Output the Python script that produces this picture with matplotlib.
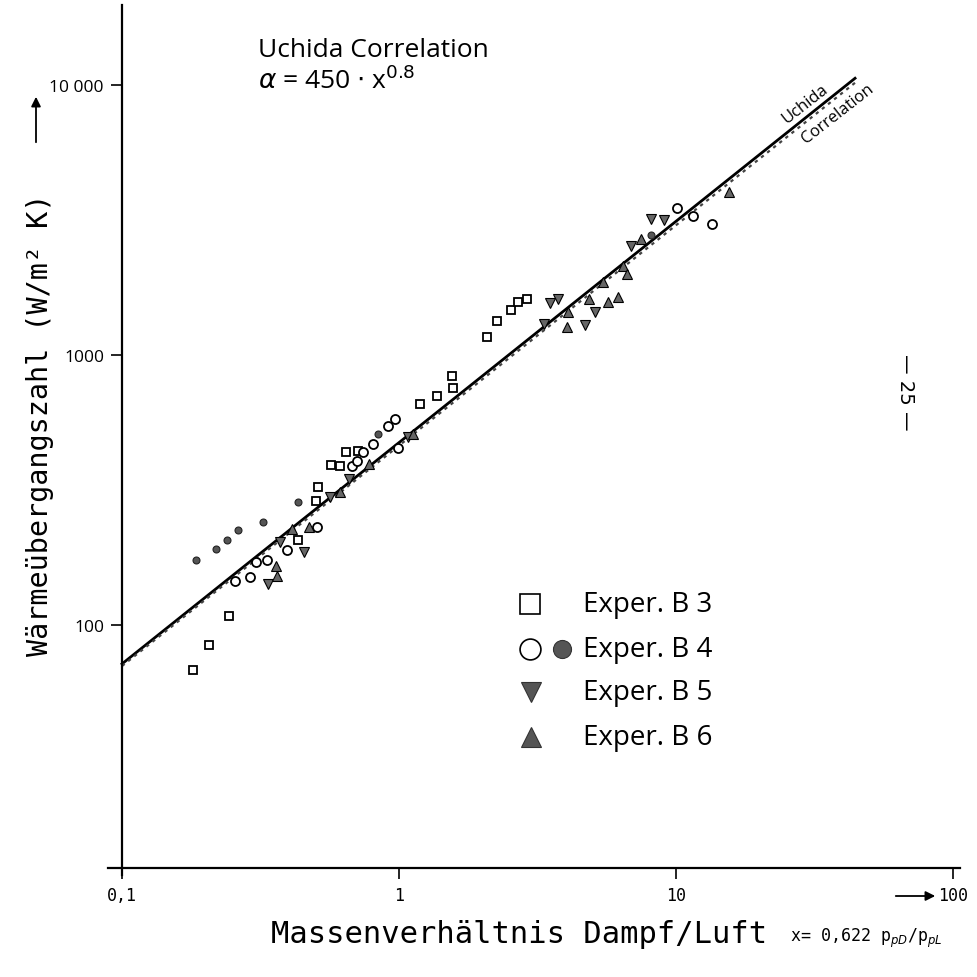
import numpy as np
import matplotlib.pyplot as plt

# ---- data (log-log) ----
# Exper. B3, open squares
b3_x = [0.18, 0.206, 0.243, 0.432, 0.502, 0.51, 0.568, 0.612, 0.644, 0.711,
        1.19, 1.37, 1.55, 1.57, 2.08, 2.26, 2.54, 2.69, 2.90]
b3_y = [68, 84, 108, 206, 288, 324, 391, 388, 437, 441,
        658, 705, 836, 755, 1166, 1336, 1468, 1572, 1612]

# Exper. B4, open circles
b4o_x = [0.256, 0.29, 0.305, 0.334, 0.394, 0.506, 0.677, 0.706, 0.741, 0.806,
         0.913, 0.967, 0.992, 10.1, 11.5, 13.5]
b4o_y = [146, 151, 171, 174, 190, 231, 388, 405, 437, 468,
         546, 579, 452, 3500, 3270, 3060]

# Exper. B4, filled circles
b4f_x = [0.185, 0.219, 0.239, 0.262, 0.323, 0.432, 0.84, 8.13]
b4f_y = [174, 191, 207, 225, 241, 286, 510, 2780]

# Exper. B5, down triangles
b5_x = [0.337, 0.454, 0.372, 0.563, 0.66, 1.078, 3.34, 3.51, 3.75, 4.69,
        5.10, 6.88, 8.13, 9.05]
b5_y = [142, 186, 203, 298, 347, 497, 1302, 1558, 1612, 1292,
        1443, 2533, 3190, 3162]

# Exper. B6, up triangles
b6_x = [0.36, 0.363, 0.411, 0.473, 0.612, 0.779, 1.123, 4.04, 4.08, 4.85,
        5.45, 5.68, 6.17, 6.44, 6.66, 7.47, 15.5]
b6_y = [165, 152, 227, 231, 311, 395, 510, 1269, 1443, 1612,
        1864, 1572, 1640, 2136, 1995, 2689, 4015]

# correlation lines (solid + dotted)
line_x = [0.1, 44.3]
line_y = [71.8, 10600]
uchida_y = [70.5, 10200]

xticks = [0.1, 1, 10, 100]
xtick_labels = ['0,1', '1', '10', '100']
yticks = [100, 1000, 10000]
ytick_labels = ['100', '1000', '10 000']
legend_labels = ['Exper. B 3', 'Exper. B 4', 'Exper. B 5', 'Exper. B 6']

W, H = 977, 978
fig = plt.figure(figsize=(W / 100, H / 100), dpi=100)


def fx(px):
    return px / W


def fy(py):
    return 1 - py / H


ax = fig.add_axes([fx(108), fy(876), fx(960) - fx(108), fy(6) - fy(876)])
ax.set_xscale('log')
ax.set_yscale('log')
ax.set_xlim(0.089, 106)
ax.set_ylim(11.86, 19800)

for s in ['top', 'right']:
    ax.spines[s].set_visible(False)
ax.spines['left'].set_position(('data', 0.1))
ax.spines['bottom'].set_position(('data', 12.59))
ax.spines['left'].set_linewidth(1.6)
ax.spines['bottom'].set_linewidth(1.6)

ax.set_xticks(xticks)
ax.set_xticklabels(xtick_labels, fontfamily='DejaVu Sans Mono', fontsize=12)
ax.set_yticks(yticks)
ax.set_yticklabels(ytick_labels, fontfamily='Open Sans', fontsize=12.5)
ax.minorticks_off()
ax.tick_params(axis='both', direction='out', length=8, width=1.2, pad=5)

# lines
ax.plot(line_x, line_y, color='black', linewidth=2.0)
ax.plot(line_x, uchida_y, color='#444444', linewidth=1.6, linestyle=(0, (1.5, 2)))

# data points
ax.plot(b3_x, b3_y, linestyle='none', marker='s', ms=5.5, mfc='white', mec='black', mew=1.3)
ax.plot(b4o_x, b4o_y, linestyle='none', marker='o', ms=6.5, mfc='white', mec='black', mew=1.3)
ax.plot(b4f_x, b4f_y, linestyle='none', marker='o', ms=5, mfc='#555555', mec='#222222', mew=0.8)
ax.plot(b5_x, b5_y, linestyle='none', marker='v', ms=6.5, mfc='#666666', mec='black', mew=0.8)
ax.plot(b6_x, b6_y, linestyle='none', marker='^', ms=6.5, mfc='#666666', mec='black', mew=0.8)

# labels along the line
fig.text(fx(805), fy(104), 'Uchida', rotation=38, ha='center', va='center',
         fontfamily='Open Sans', fontsize=12)
fig.text(fx(838), fy(114), 'Correlation', rotation=38, ha='center', va='center',
         fontfamily='Open Sans', fontsize=12)

# title block
fig.text(fx(258), fy(57), 'Uchida Correlation', ha='left', va='baseline',
         fontfamily='Open Sans', fontsize=19)
fig.text(fx(258), fy(89), r'$\alpha$ = 450 $\cdot$ x$^{0.8}$', ha='left', va='baseline',
         fontfamily='Open Sans', fontsize=19)

# legend drawn by hand
leg_y = [605, 650, 693, 738]
fig.lines.append(plt.Line2D([fx(530)], [fy(leg_y[0])], marker='s', ms=15, mfc='white',
                            mec='black', mew=1.2, linestyle='none', transform=fig.transFigure))
fig.lines.append(plt.Line2D([fx(530)], [fy(leg_y[1])], marker='o', ms=15, mfc='white',
                            mec='black', mew=1.2, linestyle='none', transform=fig.transFigure))
fig.lines.append(plt.Line2D([fx(562)], [fy(leg_y[1])], marker='o', ms=13, mfc='#555555',
                            mec='#333333', mew=0.8, linestyle='none', transform=fig.transFigure))
fig.lines.append(plt.Line2D([fx(531)], [fy(leg_y[2])], marker='v', ms=15, mfc='#555555',
                            mec='#333333', mew=0.8, linestyle='none', transform=fig.transFigure))
fig.lines.append(plt.Line2D([fx(531)], [fy(leg_y[3])], marker='^', ms=15, mfc='#555555',
                            mec='#333333', mew=0.8, linestyle='none', transform=fig.transFigure))
for yy, lab in zip(leg_y, legend_labels):
    fig.text(fx(583), fy(yy), lab, ha='left', va='center', fontfamily='Open Sans', fontsize=20)

# axis titles
fig.text(fx(40), fy(425), 'Wärmeübergangszahl (W/m² K)', rotation=90, ha='center', va='center',
         fontfamily='DejaVu Sans Mono', fontsize=20.5)
fig.text(fx(519), fy(935), 'Massenverhältnis Dampf/Luft', ha='center', va='center',
         fontfamily='DejaVu Sans Mono', fontsize=22)
fig.text(fx(790), fy(938), r'x= 0,622 p$_{pD}$/p$_{pL}$', ha='left', va='center',
         fontfamily='DejaVu Sans Mono', fontsize=12)

# direction arrows
ax.annotate('', xy=(fx(36), fy(95)), xytext=(fx(36), fy(146)), xycoords='figure fraction',
            textcoords='figure fraction',
            arrowprops=dict(arrowstyle='-|>', color='black', lw=1.3, mutation_scale=14))
ax.annotate('', xy=(fx(938), fy(897)), xytext=(fx(893), fy(897)), xycoords='figure fraction',
            textcoords='figure fraction',
            arrowprops=dict(arrowstyle='-|>', color='black', lw=1.3, mutation_scale=14))

# page number
fig.text(fx(905), fy(392), '— 25 —', rotation=-90, ha='center', va='center',
         fontfamily='DejaVu Sans', fontsize=14)

fig.savefig('out.png', dpi=100)
